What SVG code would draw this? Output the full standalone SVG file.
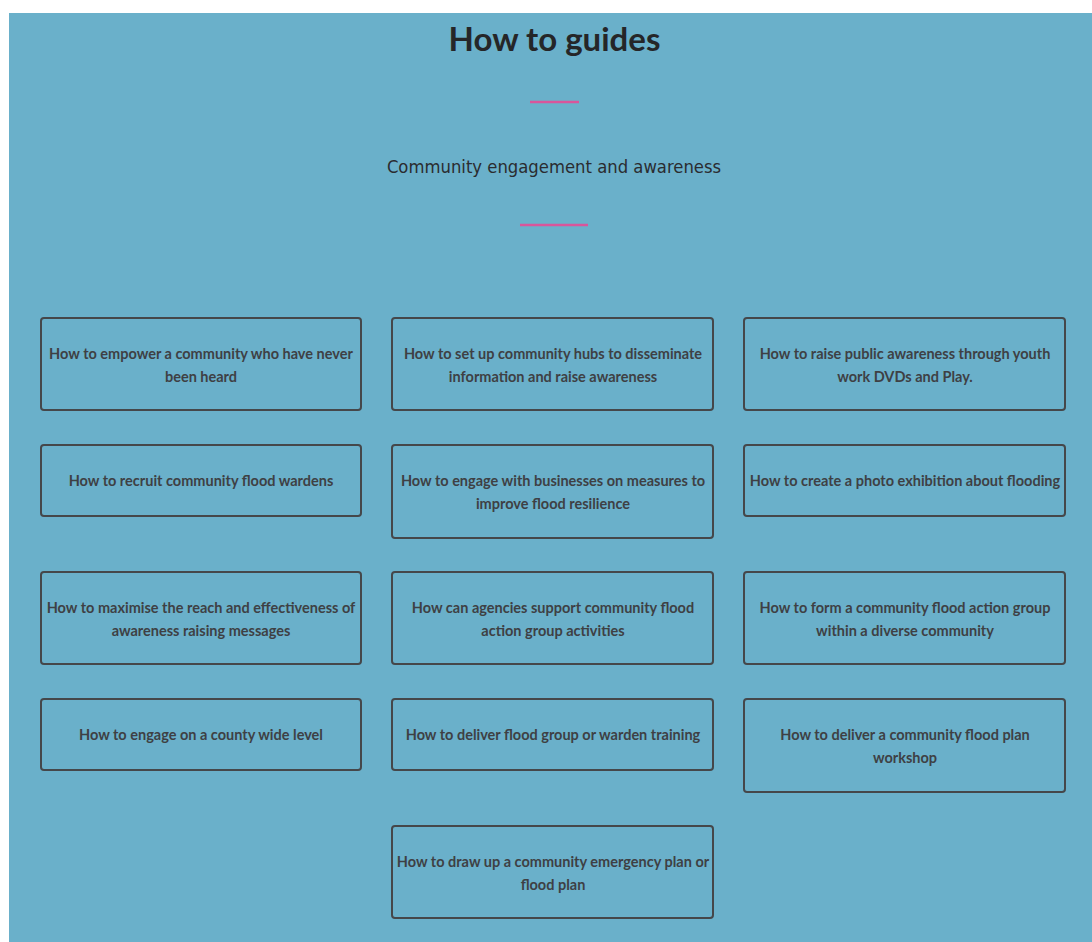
<svg xmlns="http://www.w3.org/2000/svg" width="1092" height="942" viewBox="0 0 1092 942">
<style>
.bg{fill:#6ab0ca}
.box{fill:none;stroke:#45474a;stroke-width:2}
.t{font-family:Lato,"Open Sans","Liberation Sans",sans-serif;font-weight:bold;font-size:14.5px;fill:#3e4044;text-anchor:middle}
.title{font-family:Lato,"Open Sans","Liberation Sans",sans-serif;font-weight:bold;font-size:33px;fill:#252628;text-anchor:middle}
.sub{font-family:"DejaVu Sans Condensed","Liberation Sans",sans-serif;font-size:18.3px;fill:#2a2c30;text-anchor:middle}
.pink{stroke:#d9559b;stroke-width:2.5}
</style>
<rect x="0" y="0" width="1092" height="942" fill="#ffffff"/>
<rect class="bg" x="9" y="13" width="1083" height="929"/>
<text class="title" x="554.5" y="51">How to guides</text>
<line class="pink" x1="530" y1="102" x2="579" y2="102"/>
<text class="sub" x="554" y="173">Community engagement and awareness</text>
<line class="pink" x1="520" y1="225" x2="588" y2="225"/>
<g id="connectors"></g>
<g id="n1"><rect class="box" x="41" y="318" width="320" height="92" rx="3"/><text class="t" x="201" y="359">How to empower a community who have never</text><text class="t" x="201" y="382">been heard</text></g>
<g id="n2"><rect class="box" x="392" y="318" width="321" height="92" rx="3"/><text class="t" x="553" y="359">How to set up community hubs to disseminate</text><text class="t" x="553" y="382">information and raise awareness</text></g>
<g id="n3"><rect class="box" x="744" y="318" width="321" height="92" rx="3"/><text class="t" x="905" y="359">How to raise public awareness through youth</text><text class="t" x="905" y="382">work DVDs and Play.</text></g>
<g id="n4"><rect class="box" x="41" y="445" width="320" height="71" rx="3"/><text class="t" x="201" y="486">How to recruit community flood wardens</text></g>
<g id="n5"><rect class="box" x="392" y="445" width="321" height="93" rx="3"/><text class="t" x="553" y="486">How to engage with businesses on measures to</text><text class="t" x="553" y="509">improve flood resilience</text></g>
<g id="n6"><rect class="box" x="744" y="445" width="321" height="71" rx="3"/><text class="t" x="905" y="486">How to create a photo exhibition about flooding</text></g>
<g id="n7"><rect class="box" x="41" y="572" width="320" height="92" rx="3"/><text class="t" x="201" y="613">How to maximise the reach and effectiveness of</text><text class="t" x="201" y="636">awareness raising messages</text></g>
<g id="n8"><rect class="box" x="392" y="572" width="321" height="92" rx="3"/><text class="t" x="553" y="613">How can agencies support community flood</text><text class="t" x="553" y="636">action group activities</text></g>
<g id="n9"><rect class="box" x="744" y="572" width="321" height="92" rx="3"/><text class="t" x="905" y="613">How to form a community flood action group</text><text class="t" x="905" y="636">within a diverse community</text></g>
<g id="n10"><rect class="box" x="41" y="699" width="320" height="71" rx="3"/><text class="t" x="201" y="740">How to engage on a county wide level</text></g>
<g id="n11"><rect class="box" x="392" y="699" width="321" height="71" rx="3"/><text class="t" x="553" y="740">How to deliver flood group or warden training</text></g>
<g id="n12"><rect class="box" x="744" y="699" width="321" height="93" rx="3"/><text class="t" x="905" y="740">How to deliver a community flood plan</text><text class="t" x="905" y="763">workshop</text></g>
<g id="n13"><rect class="box" x="392" y="826" width="321" height="92" rx="3"/><text class="t" x="553" y="867">How to draw up a community emergency plan or</text><text class="t" x="553" y="890">flood plan</text></g>
</svg>
